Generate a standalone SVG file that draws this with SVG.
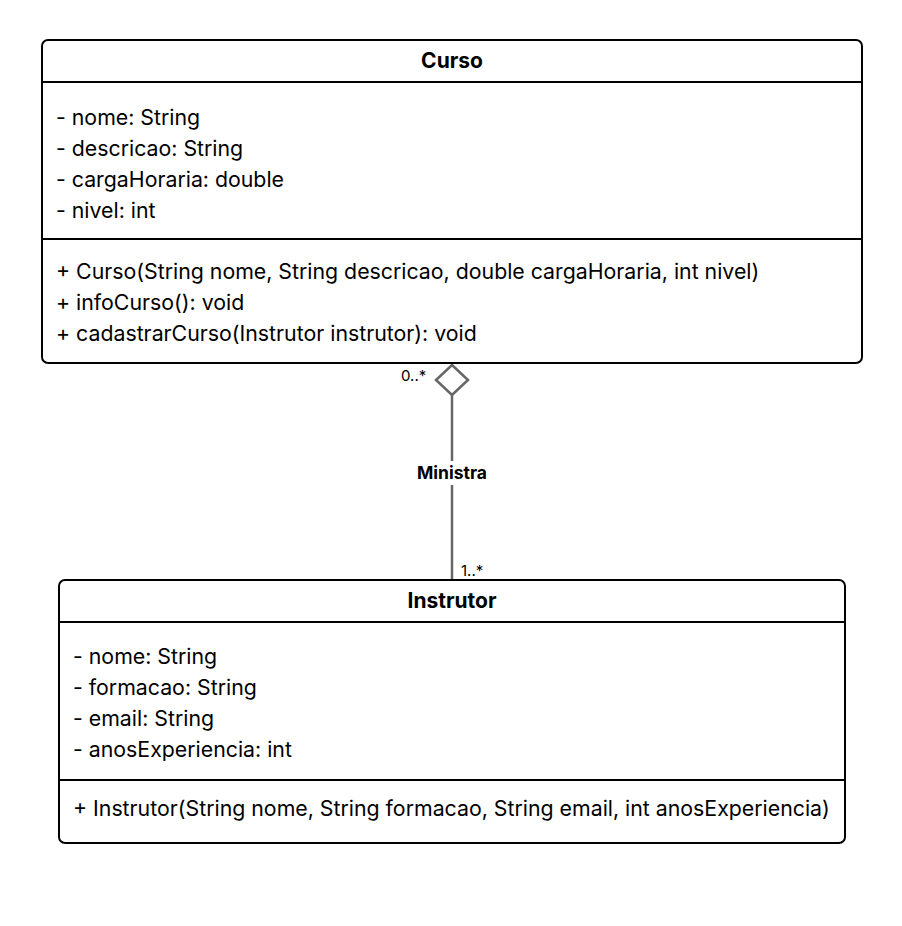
<svg xmlns="http://www.w3.org/2000/svg" width="902" height="926" viewBox="0 0 902 926">
<style>
.box{fill:#fff;stroke:#000;stroke-width:2}
.sep{stroke:#000;stroke-width:2}
.t{font-family:Inter,"Liberation Sans",sans-serif;font-size:21.3px;fill:#000}
.h{font-family:Inter,"Liberation Sans",sans-serif;font-size:21px;font-weight:bold;fill:#000;text-anchor:middle}
.m{font-family:Inter,"Liberation Sans",sans-serif;font-size:15px;fill:#000}
.lbl{font-family:Inter,"Liberation Sans",sans-serif;font-size:17.5px;font-weight:bold;fill:#000;text-anchor:middle}
.edge{stroke:#666;stroke-width:2.5;fill:none}
</style>
<rect width="902" height="926" fill="#fff"/>
<g id="connectors">
<line class="edge" x1="452" y1="395" x2="452" y2="580"/>
<polygon class="edge" fill="#fff" points="452,365 468,380 452,395 436,380"/>
<rect x="412" y="461" width="80" height="24" fill="#fff"/>
<text class="lbl" x="452" y="479">Ministra</text>
<text class="m" x="401" y="381">0..*</text>
<text class="m" x="461" y="576">1..*</text>
</g>
<g id="Curso">
<rect class="box" x="42" y="40" width="820" height="323" rx="6"/>
<line class="sep" x1="42" y1="82" x2="862" y2="82"/>
<line class="sep" x1="42" y1="239" x2="862" y2="239"/>
<text class="h" x="452" y="68">Curso</text>
<text class="t" x="56" y="125">- nome: String</text>
<text class="t" x="56" y="156">- descricao: String</text>
<text class="t" x="56" y="187">- cargaHoraria: double</text>
<text class="t" x="56" y="218">- nivel: int</text>
<text class="t" x="56" y="279">+ Curso(String nome, String descricao, double cargaHoraria, int nivel)</text>
<text class="t" x="56" y="310">+ infoCurso(): void</text>
<text class="t" x="56" y="341">+ cadastrarCurso(Instrutor instrutor): void</text>
</g>
<g id="Instrutor">
<rect class="box" x="59" y="580" width="786" height="263" rx="6"/>
<line class="sep" x1="59" y1="622" x2="845" y2="622"/>
<line class="sep" x1="59" y1="780" x2="845" y2="780"/>
<text class="h" x="452" y="608">Instrutor</text>
<text class="t" x="73" y="664">- nome: String</text>
<text class="t" x="73" y="695">- formacao: String</text>
<text class="t" x="73" y="726">- email: String</text>
<text class="t" x="73" y="757">- anosExperiencia: int</text>
<text class="t" x="73" y="816">+ Instrutor(String nome, String formacao, String email, int anosExperiencia)</text>
</g>
</svg>
